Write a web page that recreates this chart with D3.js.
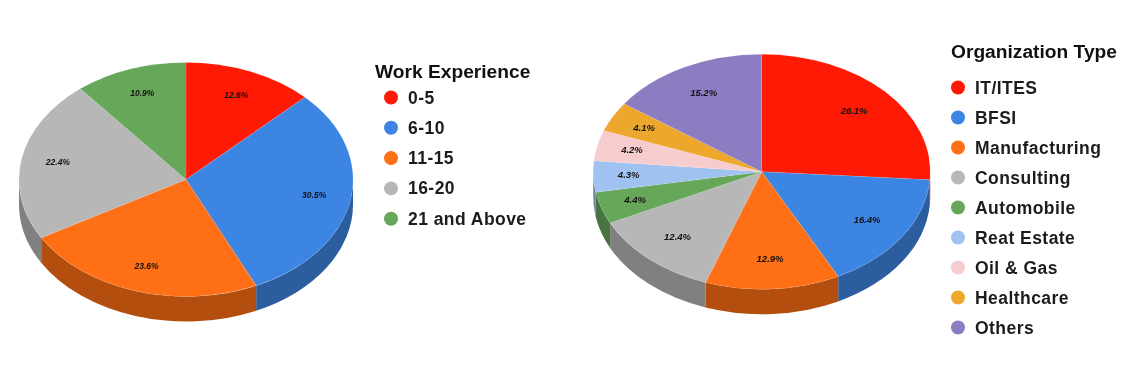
<!DOCTYPE html>
<html>
<head>
<meta charset="utf-8">
<script src="https://cdnjs.cloudflare.com/ajax/libs/d3/7.8.5/d3.min.js"></script>
<style>
  html, body { margin: 0; background: #fff; }
  /* the reference is a slightly soft upscaled image */
  svg { display: block; filter: blur(0.35px); }
  text { font-family: "Liberation Sans", Arial, sans-serif; fill: #111; }
  .pct { font-weight: bold; font-style: italic; text-anchor: middle; dominant-baseline: middle; }
  .legend-title { font-size: 19.2px; font-weight: bold; }
  .legend-label { font-size: 17.5px; font-weight: bold; letter-spacing: 0.45px; fill: #1c1c1c; }
  .slice { stroke: #fff; stroke-opacity: 0.2; stroke-width: 0.5px; vector-effect: non-scaling-stroke; }
</style>
</head>
<body>
<svg id="chart" width="1136" height="372"></svg>
<script>
const workLabels = ['0-5', '6-10', '11-15', '16-20', '21 and Above'];
const workValues = [12.6, 30.5, 23.6, 22.4, 10.9];

const orgLabels = ['IT/ITES', 'BFSI', 'Manufacturing', 'Consulting', 'Automobile', 'Reat Estate', 'Oil & Gas', 'Healthcare', 'Others'];
const orgValues = [26.1, 16.4, 12.9, 12.4, 4.4, 4.3, 4.2, 4.1, 15.2];

const palette = ['#ff1a05', '#3d85e3', '#ff6f16', '#b7b7b7', '#67a75a', '#9fc2f0', '#f7cccc', '#eea72d', '#8e7cc3'];

const svg = d3.select('#chart');

// pie is drawn on a unit circle and squashed by the group transform to fake the tilt
function drawPie(values, opts) {
  const { cx, cy, rx, ry, depth, labelR, smallLabelR, fontSize } = opts;
  const color = d3.scaleOrdinal().domain(d3.range(palette.length)).range(palette);
  const arcs = d3.pie().sort(null)(values);
  const g = svg.append('g').attr('transform', `translate(${cx},${cy}) scale(${rx},${ry})`);
  const d = depth / ry;

  // side wall, only the front half (90deg..270deg) is visible
  const wall = (a) => {
    const a0 = Math.max(a.startAngle, Math.PI / 2) - Math.PI / 2;
    const a1 = Math.min(a.endAngle, 3 * Math.PI / 2) - Math.PI / 2;
    if (a1 <= a0) return null;
    const p = d3.path();
    p.arc(0, 0, 1, a0, a1);
    p.lineTo(Math.cos(a1), Math.sin(a1) + d);
    p.arc(0, d, 1, a1, a0, true);
    p.closePath();
    return p.toString();
  };

  g.selectAll('path.wall').data(arcs).join('path')
    .attr('class', 'wall')
    .attr('d', wall)
    .attr('fill', (a, i) => d3.color(color(i)).darker(1).formatHex());

  const arc = d3.arc().innerRadius(0).outerRadius(1);
  g.selectAll('path.slice').data(arcs).join('path')
    .attr('class', 'slice')
    .attr('d', arc)
    .attr('fill', (a, i) => color(i));

  // labels go outside the scaled group so the text is not squashed
  // thin slices push their label a bit further out
  const centroid = (a) => {
    const r = a.value < 5 ? smallLabelR : labelR;
    return d3.arc().innerRadius(r).outerRadius(r).centroid(a);
  };
  svg.append('g').selectAll('text').data(arcs).join('text')
    .attr('class', 'pct')
    .style('font-size', fontSize + 'px')
    .attr('x', a => cx + centroid(a)[0] * rx)
    .attr('y', a => cy + centroid(a)[1] * ry)
    .text(a => a.value.toFixed(1) + '%');
}

function drawLegend(title, labels, opts) {
  const { x, titleX, titleY, top, step } = opts;
  svg.append('text').attr('class', 'legend-title').attr('x', titleX).attr('y', titleY).text(title);
  const y = d3.scalePoint().domain(labels).range([top, top + step * (labels.length - 1)]);
  const items = svg.append('g').selectAll('g').data(labels).join('g')
    .attr('transform', l => `translate(${x},${y(l)})`);
  items.append('circle').attr('r', 7).attr('fill', (l, i) => palette[i]);
  items.append('text').attr('class', 'legend-label').attr('x', 17).attr('y', 6).text(l => l);
}

drawPie(workValues, { cx: 186, cy: 179.5, rx: 167, ry: 117, depth: 25, labelR: 0.78, smallLabelR: 0.78, fontSize: 8.5 });
drawPie(orgValues, { cx: 761.7, cy: 171.7, rx: 168.5, ry: 117.5, depth: 25, labelR: 0.75, smallLabelR: 0.79, fontSize: 9.5 });

drawLegend('Work Experience', workLabels, { x: 391, titleX: 375, titleY: 78, top: 97.5, step: 30.3 });
drawLegend('Organization Type', orgLabels, { x: 958, titleX: 951, titleY: 58, top: 87.5, step: 30 });
</script>
</body>
</html>
